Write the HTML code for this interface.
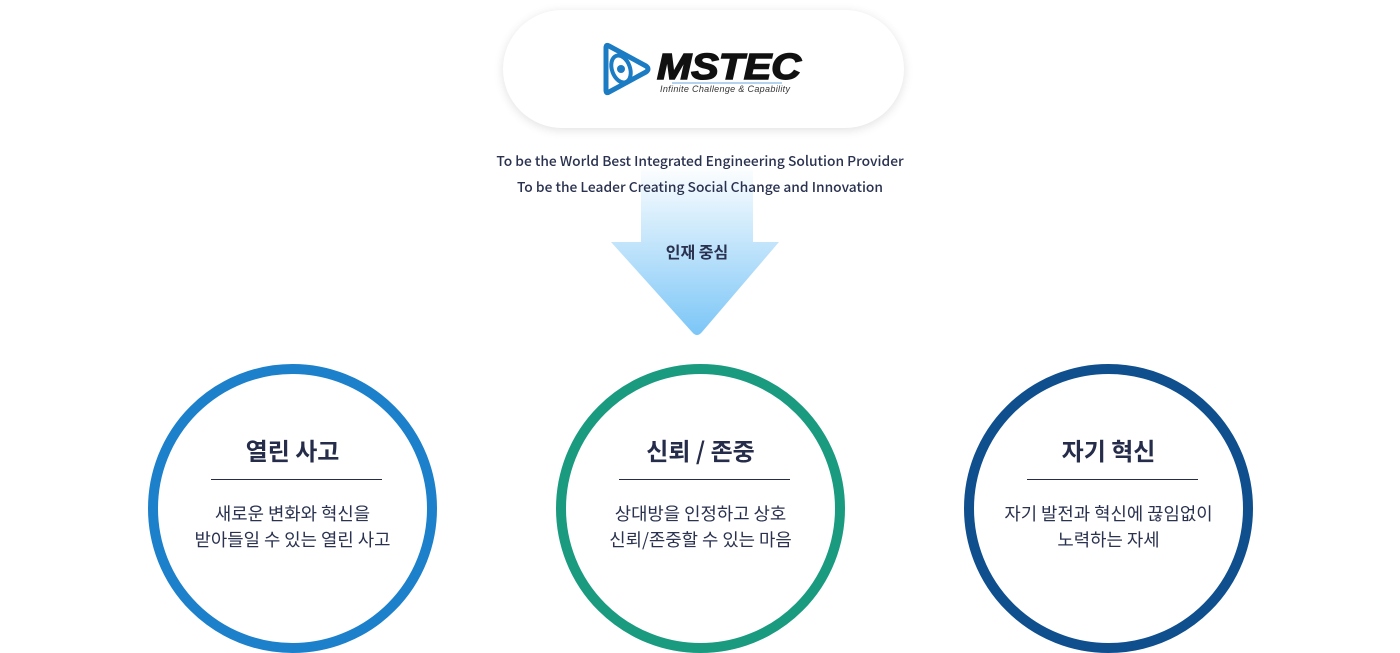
<!DOCTYPE html>
<html><head><meta charset="utf-8"><style>
body{margin:0;width:1400px;height:653px;background:#fff;position:relative;overflow:hidden;font-family:"Liberation Sans","Noto Sans CJK KR",sans-serif;color:#2a3250}
.pill{position:absolute;left:503px;top:10px;width:401px;height:118px;border-radius:59px;background:#fff;box-shadow:0 2px 10px rgba(0,0,0,0.12)}
.vis{position:absolute;left:0;width:1400px;text-align:center;font-size:13.8px;font-weight:500;font-family:"Noto Sans CJK KR",sans-serif}
.c{position:absolute;top:364px;width:269px;height:269px;border-radius:50%;border:10px solid;text-align:center;font-family:"Noto Sans CJK KR",sans-serif}
.c h3{margin:0;position:absolute;top:58px;width:100%;font-size:24px;font-weight:bold;color:#262d4a}
.c .ln{position:absolute;top:105px;left:53px;width:171px;height:1px;background:#262d4a}
.c p{position:absolute;top:126px;width:100%;margin:0;font-size:17.8px;line-height:26px;color:#2a3250}
</style></head><body>
<div class="pill"></div>
<svg style="position:absolute;left:0;top:0" width="1400" height="653">
<defs><linearGradient id="g" x1="0" y1="0" x2="0" y2="1"><stop offset="0" stop-color="#fff"/><stop offset="1" stop-color="#7cc6f7"/></linearGradient></defs>
<path d="M641 165 H753 V242 H779 L702 332 Q697 338 692 332 L611 242 H641 Z" fill="url(#g)"/>
<g transform="translate(606,44)">
<path d="M3 2 L40 22 Q44 25 40 28 L3 48 Q0 50 0 46 V4 Q0 0 3 2Z" fill="none" stroke="#1b7cc4" stroke-width="5"/>
<ellipse cx="15" cy="25" rx="9" ry="14" fill="none" stroke="#1b7cc4" stroke-width="4" transform="rotate(-20 15 25)"/>
<circle cx="15" cy="25" r="4" fill="#1b7cc4"/>
</g>
<text x="657" y="79" font-family="Liberation Sans" font-weight="900" font-style="italic" font-size="36" fill="#111" textLength="144" lengthAdjust="spacingAndGlyphs" stroke="#111" stroke-width="1.5">MSTEC</text>
<line x1="672" y1="83" x2="782" y2="83" stroke="#6aa9dc" stroke-width="1"/>
<text x="660" y="92" font-family="Liberation Sans" font-style="italic" font-size="9" fill="#333" textLength="130">Infinite Challenge &amp; Capability</text>
</svg>
<div class="vis" style="top:150px">To be the World Best Integrated Engineering Solution Provider</div>
<div class="vis" style="top:176px">To be the Leader Creating Social Change and Innovation</div>
<div class="vis" style="top:239px;font-size:16px;font-weight:bold;left:-3px">인재 중심</div>
<div class="c" style="left:148px;border-color:#1c80cb"><h3>열린 사고</h3><div class="ln"></div><p>새로운 변화와 혁신을<br>받아들일 수 있는 열린 사고</p></div>
<div class="c" style="left:556px;border-color:#1a9b80"><h3>신뢰 / 존중</h3><div class="ln"></div><p>상대방을 인정하고 상호<br>신뢰/존중할 수 있는 마음</p></div>
<div class="c" style="left:964px;border-color:#0f4f8e"><h3>자기 혁신</h3><div class="ln"></div><p>자기 발전과 혁신에 끊임없이<br>노력하는 자세</p></div>
</body></html>
